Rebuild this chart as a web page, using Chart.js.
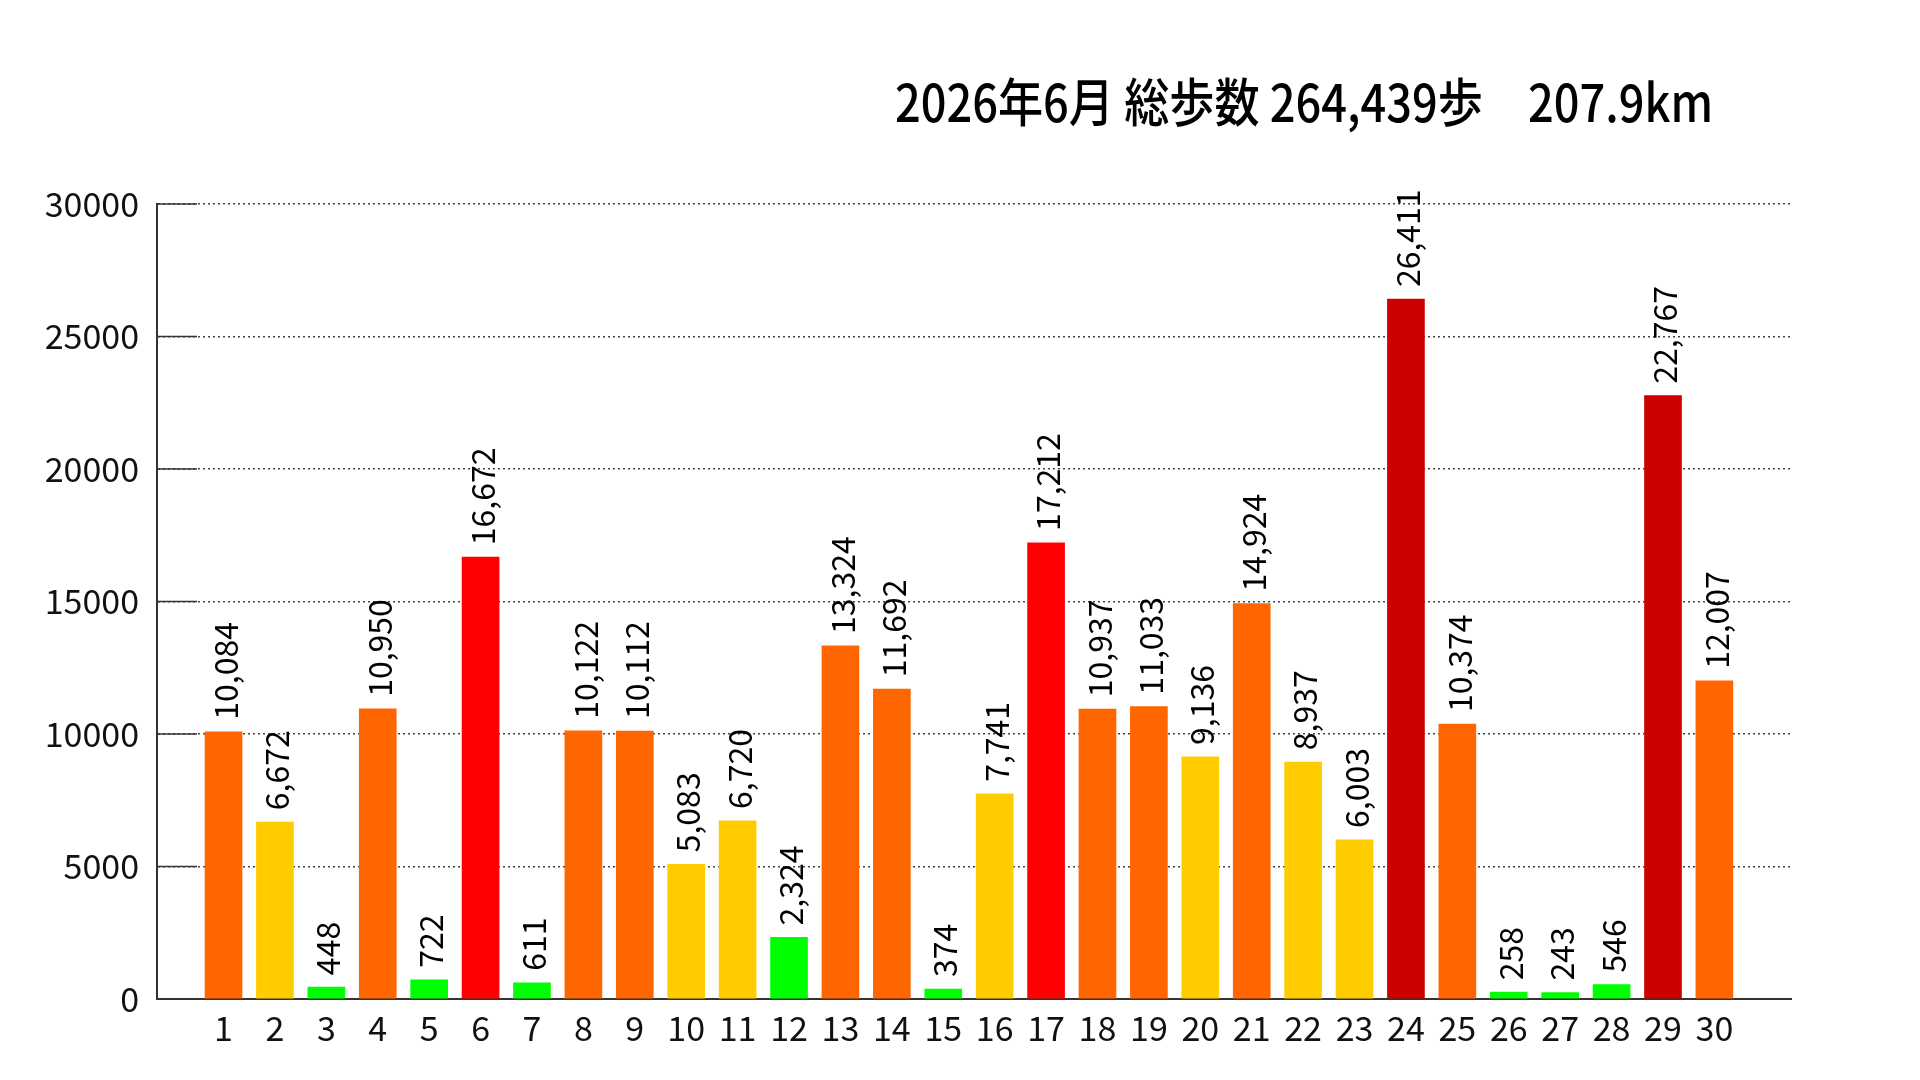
<!DOCTYPE html>
<html>
<head>
<meta charset="utf-8">
<script src="https://cdn.jsdelivr.net/npm/chart.js@4/dist/chart.umd.min.js"></script>
<style>
  html, body { margin: 0; padding: 0; background: #fff; }
  #wrap { width: 1920px; height: 1080px; }
</style>
</head>
<body>
<div id="wrap"><canvas id="steps" width="1920" height="1080"></canvas></div>
<script>
// 2026年6月 daily step counts
var days = [1, 2, 3, 4, 5, 6, 7, 8, 9, 10, 11, 12, 13, 14, 15, 16, 17, 18, 19, 20, 21, 22, 23, 24, 25, 26, 27, 28, 29, 30];
var steps = [10084, 6672, 448, 10950, 722, 16672, 611, 10122, 10112, 5083,
             6720, 2324, 13324, 11692, 374, 7741, 17212, 10937, 11033, 9136,
             14924, 8937, 6003, 26411, 10374, 258, 243, 546, 22767, 12007];
var yTicks = [0, 5000, 10000, 15000, 20000, 25000, 30000];
var titleText = '2026年6月 総歩数 264,439歩\u3000207.9km';

var FONT = '"Noto Sans CJK JP", "Noto Sans", sans-serif';

function barColor(v) {
    if (v < 5000) return '#00ff00';
    if (v < 10000) return '#ffcc00';
    if (v < 15000) return '#ff6600';
    if (v < 20000) return '#ff0000';
    return '#cc0000';
}

// title, squeezed like the original condensed face
var titlePlugin = {
    id: 'stepTitle',
    afterDraw: function (chart) {
        var ctx = chart.ctx;
        ctx.save();
        ctx.font = '500 52px ' + FONT;
        ctx.fillStyle = '#000';
        ctx.textBaseline = 'middle';
        ctx.textAlign = 'left';
        var w = ctx.measureText(titleText).width;
        var target = 818;
        ctx.translate(895, 102);
        ctx.scale(target / w, 1);
        ctx.fillText(titleText, 0, 0);
        ctx.restore();
    }
};

// short solid tick inside the plot + rotated value labels
var labelPlugin = {
    id: 'valueLabels',
    beforeDatasetsDraw: function (chart) {
        var ctx = chart.ctx, y = chart.scales.y, area = chart.chartArea;
        ctx.save();
        ctx.strokeStyle = '#333';
        ctx.lineWidth = 1.5;
        yTicks.forEach(function (t) {
            var py = y.getPixelForValue(t);
            ctx.beginPath();
            ctx.moveTo(area.left, py);
            ctx.lineTo(area.left + 40, py);
            ctx.stroke();
        });
        ctx.restore();
    },
    afterDatasetsDraw: function (chart) {
        var ctx = chart.ctx;
        var meta = chart.getDatasetMeta(0);
        ctx.save();
        ctx.font = '32px ' + FONT;
        ctx.fillStyle = '#000';
        ctx.textAlign = 'left';
        ctx.textBaseline = 'middle';
        meta.data.forEach(function (bar, i) {
            ctx.save();
            ctx.translate(bar.x, bar.y - 12);
            ctx.rotate(-Math.PI / 2);
            ctx.fillText(steps[i].toLocaleString('en-US'), 0, 2);
            ctx.restore();
        });
        ctx.restore();
    }
};

var ctx = document.getElementById('steps').getContext('2d');

new Chart(ctx, {
    type: 'bar',
    data: {
        datasets: [{
            label: '歩数',
            data: days.map(function (d, i) { return { x: d, y: steps[i] }; }),
            backgroundColor: steps.map(barColor),
            barThickness: 37
        }]
    },
    options: {
        responsive: false,
        devicePixelRatio: 1,
        animation: false,
        layout: {
            padding: { top: 204, right: 129, left: 0, bottom: 0 }
        },
        plugins: {
            legend: { display: false },
            title: { display: false },
            tooltip: { enabled: false }
        },
        scales: {
            x: {
                type: 'linear',
                offset: false,
                min: -0.294,
                max: 31.49,
                grid: { display: false },
                border: { display: true, color: '#333', width: 2 },
                ticks: {
                    stepSize: 1,
                    autoSkip: false,
                    maxRotation: 0,
                    padding: 1,
                    color: '#111',
                    font: { family: FONT, size: 34 },
                    callback: function (v) {
                        return (Number.isInteger(v) && days.indexOf(v) >= 0) ? String(v) : '';
                    }
                },
                afterFit: function (scale) { scale.height = 81; }
            },
            y: {
                min: 0,
                max: 30000,
                grid: {
                    color: '#444',
                    lineWidth: 1.5,
                    drawTicks: false
                },
                border: { display: true, color: '#333', width: 2, dash: [2, 3] },
                ticks: {
                    stepSize: 5000,
                    padding: 18,
                    color: '#111',
                    font: { family: FONT, size: 34 },
                    callback: function (v) { return String(v); }
                },
                afterFit: function (scale) { scale.width = 157; }
            }
        }
    },
    plugins: [titlePlugin, labelPlugin]
});
</script>
</body>
</html>
